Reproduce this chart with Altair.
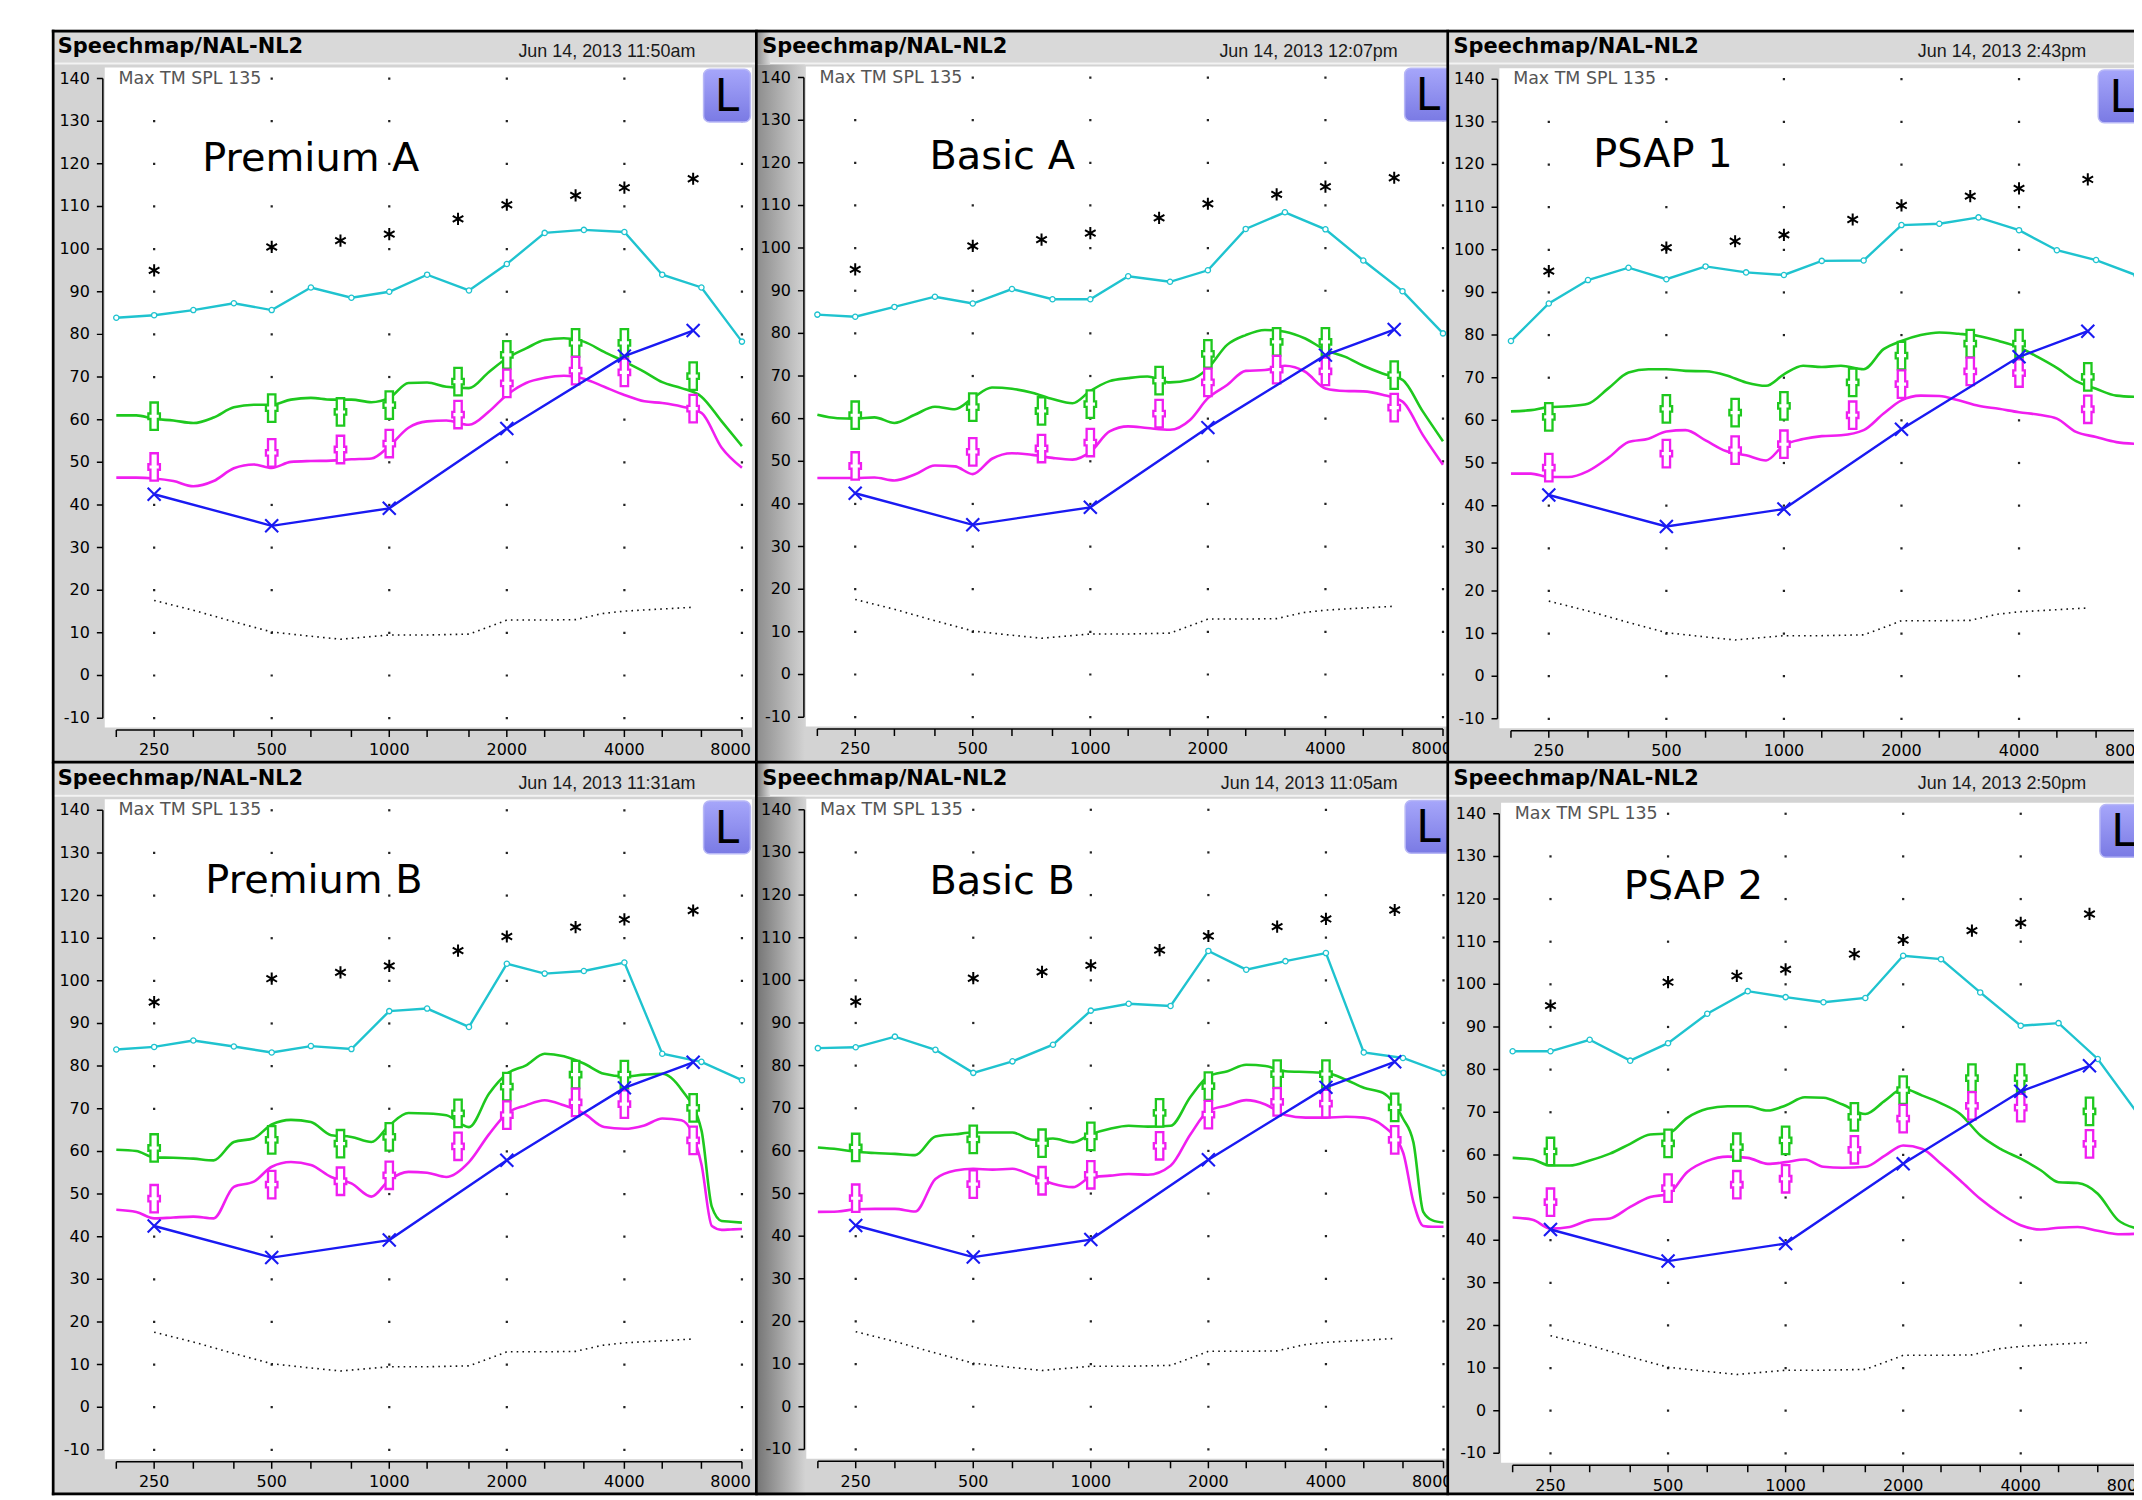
import altair as alt
import pandas as pd

# ---------------- data ----------------
F3 = [200, 250, 315, 400, 500, 630, 800, 1000, 1250, 1600, 2000, 2500, 3150, 4000, 5000, 6300, 8000]
F6 = [200, 225, 250, 280, 315, 355, 400, 450, 500, 560, 630, 710, 800, 900, 1000, 1120, 1250,
      1400, 1600, 1800, 2000, 2240, 2500, 2800, 3150, 3550, 4000, 4500, 5000, 5600, 6300, 7100, 8000]
F6X = [200, 225, 250, 280, 315, 355, 400, 450, 500, 560, 630, 710, 800, 900, 1000, 1120, 1250,
       1400, 1600, 1800, 2000, 2240, 2500, 2800, 3150, 3550, 4000, 4500, 5000, 5600, 6300, 6700,
       7100, 7500, 8000]
X_LABEL_F = [250, 500, 1000, 2000, 4000]
X_LABELS = ["250", "500", "1000", "2000", "4000"]
GRID_F = [250, 500, 1000, 2000, 4000, 8000]
LEVELS = [-10, 0, 10, 20, 30, 40, 50, 60, 70, 80, 90, 100, 110, 120, 130, 140]
LEVEL_LABELS = ["-10", "0", "10", "20", "30", "40", "50", "60", "70", "80", "90", "100", "110",
                "120", "130", "140"]

AUDIO_F = [250, 500, 750, 1000, 1500, 2000, 3000, 4000, 6000]
UCL = [95.0, 100.5, 102.0, 103.5, 107.1, 110.4, 112.6, 114.4, 116.5]
TARGET_AVG = [60.8, 62.7, 61.8, 63.4, 68.9, 75.2, 78.0, 78.0, 70.2]
TARGET_SOFT = [48.9, 52.2, 53.0, 54.4, 61.2, 68.5, 71.5, 71.1, 62.6]
THRESH_F = [250, 500, 1000, 2000, 4000, 6000]
THRESH = [42.5, 35.1, 39.2, 57.9, 74.9, 80.9]
NORMAL_F = [250, 315, 400, 500, 630, 750, 1000, 1250, 1600, 1800, 2000, 2500, 3000, 3500, 4000, 5000, 6000]
NORMAL = [17.6, 15.3, 12.6, 10.2, 9.2, 8.5, 9.5, 9.5, 9.7, 11.4, 13.0, 13.0, 13.1, 14.5, 15.1, 15.6, 16.0]

NAMES = ["Premium A", "Basic A", "PSAP 1", "Premium B", "Basic B", "PSAP 2"]
DATES = ["Jun 14, 2013 11:50am", "Jun 14, 2013 12:07pm", "Jun 14, 2013 2:43pm",
         "Jun 14, 2013 11:31am", "Jun 14, 2013 11:05am", "Jun 14, 2013 2:50pm"]
NAME_F = [331.8, 387.5, 325.0, 338.0, 386.0, 385.0]
NAME_Y = [118.4, 118.6, 119.4, 120.5, 120.3, 120.1]

CYAN_MPO = [
    [83.9, 84.5, 85.7, 87.3, 85.7, 91.0, 88.6, 90.0, 94.0, 90.3, 96.5, 103.8, 104.5, 104.0, 94.0, 91.0, 78.3],
    [84.4, 83.9, 86.2, 88.6, 87.0, 90.4, 88.0, 88.0, 93.4, 92.1, 94.8, 104.5, 108.4, 104.4, 97.1, 89.9, 80.0],
    [78.6, 87.4, 92.9, 95.8, 93.1, 96.1, 94.7, 94.1, 97.4, 97.5, 105.8, 106.1, 107.6, 104.6, 99.9, 97.6, 94.0],
    [83.9, 84.5, 86.0, 84.6, 83.2, 84.7, 84.0, 92.9, 93.5, 89.2, 104.0, 101.7, 102.3, 104.3, 82.9, 81.0, 76.7],
    [84.1, 84.3, 86.8, 83.7, 78.3, 81.0, 84.9, 92.9, 94.5, 94.0, 106.9, 102.5, 104.5, 106.4, 83.1, 81.8, 78.3],
    [84.3, 84.3, 87.0, 82.1, 86.2, 93.1, 98.4, 97.0, 95.8, 96.8, 106.7, 105.9, 98.1, 90.3, 90.9, 82.5, 69.5],
]
GM_FREQS = [F6, F6, F6, F6X, F6X, F6]
GREEN_AVG = [
    [61.0, 61.0, 60.2, 59.8, 59.2, 60.5, 62.9, 63.5, 63.5, 64.7, 65.1, 64.7, 64.7, 64.1, 65.1, 68.6, 68.7,
     67.7, 67.4, 71.2, 74.4, 76.7, 78.7, 79.1, 78.3, 75.9, 73.6, 71.2, 68.8, 67.4, 65.4, 59.6, 53.8],
    [60.9, 60.1, 60.0, 60.3, 59.0, 60.9, 62.8, 62.2, 64.8, 67.3, 67.0, 66.1, 64.6, 63.6, 66.5, 68.8, 69.5,
     69.9, 68.5, 69.1, 71.8, 77.3, 79.6, 80.8, 80.4, 78.8, 76.1, 74.5, 72.4, 70.6, 69.1, 61.7, 54.7],
    [62.1, 62.4, 63.1, 63.3, 63.9, 67.5, 71.2, 72.0, 72.0, 71.6, 71.5, 70.6, 68.9, 68.1, 70.8, 72.8, 72.5,
     72.8, 72.0, 76.7, 78.6, 80.0, 80.6, 80.3, 79.8, 78.6, 77.1, 74.7, 72.3, 69.2, 67.4, 65.8, 65.5],
    [60.4, 60.1, 58.6, 58.5, 58.3, 57.9, 62.2, 63.1, 66.3, 67.4, 66.9, 63.8, 63.4, 62.2, 66.1, 69.0, 68.9,
     68.5, 65.7, 73.5, 78.2, 80.2, 82.9, 82.3, 80.6, 78.2, 77.6, 78.0, 78.2, 74.5, 65.0, 47.0, 43.7, 43.5, 43.3],
    [60.8, 60.4, 59.8, 59.5, 59.3, 59.0, 63.4, 63.9, 64.3, 64.3, 64.3, 62.6, 62.9, 62.0, 63.9, 65.2, 65.9,
     65.7, 65.9, 72.7, 77.5, 78.7, 80.2, 79.9, 78.7, 78.5, 78.3, 76.7, 74.8, 73.6, 67.6, 62.0, 45.7, 43.7, 43.2],
    [59.3, 58.9, 57.5, 57.5, 58.7, 60.3, 62.6, 64.8, 65.0, 68.7, 70.8, 71.4, 71.4, 70.4, 71.6, 73.5, 73.4,
     71.8, 69.6, 72.8, 75.5, 73.9, 72.1, 69.6, 64.6, 61.4, 59.1, 56.4, 53.6, 53.4, 50.9, 44.7, 42.7],
]
MAGENTA_SOFT = [
    [46.4, 46.4, 46.2, 45.6, 44.4, 45.6, 48.6, 49.5, 48.7, 50.1, 50.3, 50.4, 50.7, 50.9, 53.8, 58.1, 59.6,
     59.8, 58.8, 61.9, 65.8, 68.6, 69.8, 70.3, 69.6, 67.7, 65.8, 64.3, 63.9, 63.1, 61.6, 53.4, 48.7],
    [46.1, 46.1, 46.1, 46.2, 45.5, 46.9, 49.0, 48.8, 47.0, 50.6, 51.9, 51.5, 50.8, 50.4, 52.2, 57.0, 58.2,
     57.8, 57.4, 59.7, 64.8, 67.9, 71.2, 71.4, 72.4, 71.0, 67.1, 66.5, 66.4, 65.6, 64.0, 56.2, 49.2],
    [47.5, 47.5, 46.7, 46.7, 48.1, 51.2, 54.9, 55.7, 57.4, 57.7, 55.3, 52.8, 51.8, 50.6, 54.2, 55.6, 56.3,
     56.5, 57.7, 61.6, 64.7, 65.8, 65.7, 64.7, 63.4, 62.7, 61.9, 61.3, 60.4, 57.3, 56.1, 54.9, 54.5],
    [46.3, 45.8, 44.3, 44.5, 44.7, 44.3, 51.7, 52.9, 56.4, 57.5, 56.8, 54.0, 52.5, 49.4, 53.3, 55.2, 55.0,
     54.0, 57.5, 64.0, 68.9, 70.8, 72.0, 70.8, 68.9, 65.7, 65.3, 66.1, 67.7, 67.3, 57.0, 42.5, 41.6, 41.7, 41.8],
    [45.7, 45.8, 46.3, 46.4, 46.4, 45.8, 53.4, 55.4, 55.8, 55.6, 55.8, 54.2, 52.3, 51.5, 53.8, 54.2, 54.6,
     54.4, 56.5, 63.9, 69.4, 70.7, 71.9, 70.9, 68.4, 67.8, 67.8, 68.0, 67.8, 65.9, 59.7, 48.0, 42.4, 42.2, 42.2],
    [45.3, 44.8, 42.7, 43.1, 44.7, 45.1, 47.8, 50.1, 50.8, 56.0, 58.6, 59.6, 59.3, 57.9, 58.3, 58.9, 57.2,
     57.0, 57.2, 59.9, 62.2, 61.4, 57.9, 54.0, 49.7, 46.2, 43.5, 42.5, 42.9, 43.1, 42.2, 41.4, 41.5],
]

# ---------------- styling / layout ----------------
FONT = "DejaVu Sans"
DATE_FONT = "Liberation Sans, Arial, sans-serif"
FRAME = "#d3d3d3"
HEADER = "#d9d9d9"
CYAN = "#1fc3cf"
GREEN = "#1ec81e"
MAGENTA = "#f01ef0"
BLUE = "#1a1af2"

COL_W = [707, 694, 689]
ROW_H = [734.5, 736]
P250 = [102.7, 99.4, 101.6, 102.7, 99.9, 103.3]   # px of 250 Hz from panel left
P140 = [49.0, 48.0, 49.7, 48.5, 48.0, 52.0]        # px of 140 dB from panel top
DATE_X = [646, 644, 641]
SHADOW_DARK = ["#8c8c8c", "#747474"]               # column-2 screen shadow, per row
OCT = 118.0      # px per octave
DBPX = 4.28      # px per dB

CROSS = "M-0.27,-1H0.27V-0.2H0.42V0.2H0.27V1H-0.27V0.2H-0.42V-0.2H-0.27Z"
STAR = "M0,-1L0,1M-0.87,-0.5L0.87,0.5M-0.87,0.5L0.87,-0.5"
XMARK = "M-1,-1L1,1M-1,1L1,-1"


def octs(px):
    return 2 ** (px / OCT)


def make_panel(i):
    W = COL_W[i % 3]
    H = ROW_H[i // 3]
    a = P250[i]
    b = P140[i]
    xs = alt.Scale(type="log", domain=[250 * octs(-a), 250 * octs(W - a)], nice=False)
    ys = alt.Scale(type="linear", domain=[140 - (H - b) / DBPX, 140 + b / DBPX], nice=False, zero=False)
    ax_y = b + 150 * DBPX + 12
    ax_x = a - 51.5
    one = pd.DataFrame({"k": [0]})

    def X(f):
        return alt.X(f, type="quantitative", scale=xs, axis=None)

    def Y(f):
        return alt.Y(f, type="quantitative", scale=ys, axis=None)

    def box(x1, x2, y1, y2, **kw):
        return alt.Chart(one).mark_rect(**kw).encode(
            x=alt.value(x1), x2=alt.value(x2), y=alt.value(y1), y2=alt.value(y2))

    layers = []
    # header bar and separator
    layers.append(box(0, W, 0, 33, fill=HEADER))
    layers.append(box(0, W, 33, 35, fill="#f3f3f3"))
    if i % 3 == 1:
        dark = SHADOW_DARK[i // 3]
        grad = {"gradient": "linear", "x1": 0, "x2": 1, "y1": 0, "y2": 0,
                "stops": [{"offset": 0, "color": dark}, {"offset": 1, "color": FRAME}]}
        layers.append(box(0, ax_x + 1, 35, H, fill=grad))
        grad2 = {"gradient": "linear", "x1": 0, "x2": 1, "y1": 0, "y2": 0,
                 "stops": [{"offset": 0, "color": dark}, {"offset": 1, "color": HEADER}]}
        layers.append(box(0, 14, 0, 35, fill=grad2))

    # white plot area
    white = pd.DataFrame({"x": [250 * octs(-49.6)], "x2": [8000 * octs(10)],
                          "y": [-10 - 9.5 / DBPX], "y2": [140 + 11 / DBPX]})
    layers.append(alt.Chart(white).mark_rect(fill="white", clip=True).encode(
        x=X("x"), x2="x2", y=Y("y"), y2="y2"))

    # dotted grid
    gx, gy = [], []
    for f in GRID_F:
        for lv in LEVELS:
            if f == 250 and lv == 140:
                continue
            gx.append(f)
            gy.append(lv)
    layers.append(alt.Chart(pd.DataFrame({"f": gx, "v": gy})).mark_square(
        size=5, color="#222222", opacity=1, clip=True).encode(x=X("f"), y=Y("v")))

    # normal hearing (dotted)
    layers.append(alt.Chart(pd.DataFrame({"f": NORMAL_F, "v": NORMAL})).mark_line(
        color="#111111", strokeWidth=1.6, strokeDash=[1.6, 4.2], clip=True).encode(x=X("f"), y=Y("v")))

    # MPO (cyan)
    cy = pd.DataFrame({"f": F3, "v": CYAN_MPO[i]})
    layers.append(alt.Chart(cy).mark_line(color=CYAN, strokeWidth=2.4, clip=True).encode(x=X("f"), y=Y("v")))
    layers.append(alt.Chart(cy).mark_point(shape="circle", size=28, filled=True, fill="white",
                                           stroke=CYAN, strokeWidth=1.3, opacity=1, clip=True).encode(
        x=X("f"), y=Y("v")))

    # UCL asterisks
    layers.append(alt.Chart(pd.DataFrame({"f": AUDIO_F, "v": UCL})).mark_point(
        shape=STAR, size=150, color="black", strokeWidth=2, opacity=1, clip=True).encode(x=X("f"), y=Y("v")))

    # measured speech curves
    fr = GM_FREQS[i]
    assert len(fr) == len(GREEN_AVG[i]) == len(MAGENTA_SOFT[i])
    layers.append(alt.Chart(pd.DataFrame({"f": fr, "v": GREEN_AVG[i]})).mark_line(
        color=GREEN, strokeWidth=2.6, interpolate="monotone", clip=True).encode(x=X("f"), y=Y("v")))
    layers.append(alt.Chart(pd.DataFrame({"f": fr, "v": MAGENTA_SOFT[i]})).mark_line(
        color=MAGENTA, strokeWidth=2.6, interpolate="monotone", clip=True).encode(x=X("f"), y=Y("v")))

    # targets
    for vals, col in ((TARGET_AVG, GREEN), (TARGET_SOFT, MAGENTA)):
        layers.append(alt.Chart(pd.DataFrame({"f": AUDIO_F, "v": vals})).mark_point(
            shape=CROSS, size=760, filled=True, fill="white", stroke=col, strokeWidth=2.3,
            opacity=1, clip=True).encode(x=X("f"), y=Y("v")))

    # thresholds (blue)
    th = pd.DataFrame({"f": THRESH_F, "v": THRESH})
    layers.append(alt.Chart(th).mark_line(color=BLUE, strokeWidth=2.4, clip=True).encode(x=X("f"), y=Y("v")))
    layers.append(alt.Chart(th).mark_point(shape=XMARK, size=170, color=BLUE, strokeWidth=2.1,
                                           opacity=1, clip=True).encode(x=X("f"), y=Y("v")))

    # texts inside plot
    layers.append(alt.Chart(pd.DataFrame({"f": [202.6], "v": [140], "t": ["Max TM SPL 135"]})).mark_text(
        font=FONT, fontSize=17.5, color="#555555", align="left", baseline="middle", clip=True).encode(
        x=X("f"), y=Y("v"), text="t:N"))
    layers.append(alt.Chart(pd.DataFrame({"f": [NAME_F[i]], "v": [NAME_Y[i]], "t": [NAMES[i]]})).mark_text(
        font=FONT, fontSize=40, color="black", align="left", baseline="alphabetic", clip=True).encode(
        x=X("f"), y=Y("v"), text="t:N"))

    # "L" badge
    lbox = pd.DataFrame({"x": [8000 * octs(10 - 48.5)], "x2": [8000 * octs(10 - 1.5)],
                         "y": [140 + 9.3 / DBPX], "y2": [140 - 43.7 / DBPX]})
    lgrad = {"gradient": "linear", "x1": 0, "x2": 0, "y1": 0, "y2": 1,
             "stops": [{"offset": 0, "color": "#a6a6fa"}, {"offset": 1, "color": "#7a7ae4"}]}
    layers.append(alt.Chart(lbox).mark_rect(fill=lgrad, stroke="#b8b8f6", strokeWidth=1.5,
                                            cornerRadius=6, clip=True).encode(
        x=X("x"), x2="x2", y=Y("y"), y2="y2"))
    layers.append(alt.Chart(pd.DataFrame({"f": [8000 * octs(-15)], "v": [135.4], "t": ["L"]})).mark_text(
        font=FONT, fontSize=44, color="black", align="center", baseline="middle", clip=True).encode(
        x=X("f"), y=Y("v"), text="t:N"))

    # hand-drawn axes: lines, ticks, labels
    layers.append(alt.Chart(pd.DataFrame({"f": [200], "f2": [8000]})).mark_rule(
        color="black", strokeWidth=1.5, clip=True).encode(x=X("f"), x2="f2", y=alt.value(ax_y)))
    layers.append(alt.Chart(pd.DataFrame({"v": [140], "v2": [-10]})).mark_rule(
        color="black", strokeWidth=1.5, clip=True).encode(y=Y("v"), y2="v2", x=alt.value(ax_x)))
    layers.append(alt.Chart(pd.DataFrame({"f": F3})).mark_rule(
        color="black", strokeWidth=1.5, clip=True).encode(
        x=X("f"), y=alt.value(ax_y), y2=alt.value(ax_y + 7)))
    layers.append(alt.Chart(pd.DataFrame({"v": LEVELS})).mark_rule(
        color="black", strokeWidth=1.5, clip=True).encode(
        y=Y("v"), x=alt.value(ax_x - 6), x2=alt.value(ax_x)))
    layers.append(alt.Chart(pd.DataFrame({"v": LEVELS, "t": LEVEL_LABELS})).mark_text(
        font=FONT, fontSize=16, color="black", align="right", baseline="middle", clip=True).encode(
        y=Y("v"), x=alt.value(ax_x - 13), text="t:N"))
    layers.append(alt.Chart(pd.DataFrame({"f": X_LABEL_F, "t": X_LABELS})).mark_text(
        font=FONT, fontSize=16, color="black", align="center", baseline="top", clip=True).encode(
        x=X("f"), y=alt.value(ax_y + 12.5), text="t:N"))
    layers.append(alt.Chart(pd.DataFrame({"f": [8000], "t": ["8000"]})).mark_text(
        font=FONT, fontSize=16, color="black", align="right", baseline="top", dx=9, clip=True).encode(
        x=X("f"), y=alt.value(ax_y + 12.5), text="t:N"))

    # header texts
    layers.append(alt.Chart(one).mark_text(text="Speechmap/NAL-NL2", font=FONT, fontWeight="bold",
                                           fontSize=21, color="black", align="left",
                                           baseline="alphabetic").encode(x=alt.value(6), y=alt.value(23.5)))
    layers.append(alt.Chart(one).mark_text(text=DATES[i], font=DATE_FONT, fontSize=18, color="#1a1a1a",
                                           align="right", baseline="alphabetic").encode(
        x=alt.value(DATE_X[i % 3]), y=alt.value(27.5)))

    # borders (rects, so nothing sticks out of the chart)
    if i % 3 == 0:
        layers.append(box(0, 2.7, 0, H, fill="black"))
    else:
        layers.append(box(-1.2, 1.5, 0, H, fill="black"))
    if i < 3:
        layers.append(box(0, W, 0, 2.7, fill="black"))
    else:
        layers.append(box(0, W, -1.2, 1.5, fill="black"))
        layers.append(box(0, W, H - 2.7, H, fill="black"))

    return alt.layer(*layers).properties(width=W, height=H)


panels = [make_panel(i) for i in range(6)]
chart = alt.concat(*panels, columns=3, spacing=0, bounds="flush", align="each").properties(
    padding={"left": 44, "top": 19, "right": 0, "bottom": 0},
    background="white",
).configure_view(fill=FRAME, strokeWidth=0)

chart.save("out.html", embed_options={"renderer": "svg", "actions": False})
